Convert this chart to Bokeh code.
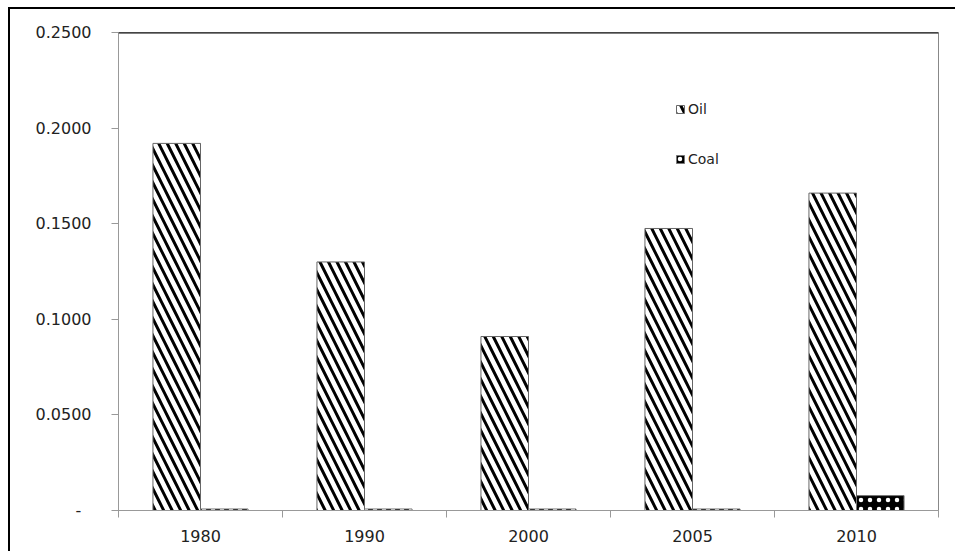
from bokeh.plotting import figure
from bokeh.models import Range1d, FixedTicker, Span, Legend, LegendItem, ColumnDataSource
from bokeh.embed import file_html
from bokeh.resources import INLINE

years = ["1980", "1990", "2000", "2005", "2010"]
oil = [0.192, 0.130, 0.091, 0.1475, 0.166]
coal = [0.0008, 0.0008, 0.0008, 0.0008, 0.0078]
y_ticks = [0.0, 0.05, 0.10, 0.15, 0.20, 0.25]

centers = [i + 0.5 for i in range(len(years))]
bar_w = 0.29
src = ColumnDataSource(dict(
    oil_x=[c - bar_w / 2 for c in centers],
    coal_x=[c + bar_w / 2 for c in centers],
    oil=oil, coal=coal,
))

p = figure(width=947, height=544, output_backend="svg", toolbar_location=None,
           x_range=Range1d(0, len(years)), y_range=Range1d(0, 0.25),
           min_border_left=108, min_border_right=19, min_border_top=23, min_border_bottom=43)
p.styles = {"border-left": "2px solid black", "border-top": "2px solid black",
            "margin-left": "8px", "margin-top": "7px"}
p.background_fill_color = "white"
p.border_fill_color = "white"
p.outline_line_color = "#888888"
p.grid.visible = False

r_oil = p.vbar(x="oil_x", top="oil", width=bar_w, source=src,
               fill_color="white", line_color="#666666", line_width=1,
               hatch_pattern="\\", hatch_color="black", hatch_scale=17, hatch_weight=3)
r_coal = p.vbar(x="coal_x", top="coal", width=bar_w, source=src,
                fill_color="black", line_color="#777777", line_width=1,
                hatch_pattern=".", hatch_color="white", hatch_scale=9, hatch_weight=1)

p.add_layout(Span(location=0.25, dimension="width", line_color="black", line_width=2))

# y axis
p.yaxis.ticker = FixedTicker(ticks=y_ticks)
p.yaxis.major_label_overrides = {t: ("-\u00a0\u00a0" if t == 0 else f"{t:.4f}") for t in y_ticks}
p.yaxis.axis_line_color = "#999999"
p.yaxis.major_tick_line_color = "#999999"
p.yaxis.major_tick_out = 7
p.yaxis.major_tick_in = 0
p.yaxis.minor_tick_line_color = None
p.yaxis.major_label_standoff = 20
p.yaxis.major_label_text_font = "DejaVu Sans"
p.yaxis.major_label_text_font_size = "16px"
p.yaxis.major_label_text_color = "#222222"

# x axis
p.xaxis.ticker = FixedTicker(ticks=centers, minor_ticks=list(range(len(years) + 1)))
p.xaxis.major_label_overrides = {c: y for c, y in zip(centers, years)}
p.xaxis.axis_line_color = "#999999"
p.xaxis.major_tick_line_color = None
p.xaxis.minor_tick_line_color = "#999999"
p.xaxis.minor_tick_out = 7
p.xaxis.minor_tick_in = 0
p.xaxis.major_label_standoff = 12
p.xaxis.major_label_text_font = "DejaVu Sans"
p.xaxis.major_label_text_font_size = "16px"
p.xaxis.major_label_text_color = "#222222"

legend = Legend(items=[LegendItem(label="Oil", renderers=[r_oil]),
                       LegendItem(label="Coal", renderers=[r_coal])],
                location=(557, 342), orientation="vertical",
                border_line_color=None, background_fill_alpha=0,
                padding=0, margin=0, spacing=32,
                glyph_width=10, glyph_height=10, label_height=18,
                label_standoff=3,
                label_text_font="DejaVu Sans", label_text_font_size="14px",
                label_text_color="#222222")
p.add_layout(legend)

open("out.html", "w").write(file_html(p, INLINE))
